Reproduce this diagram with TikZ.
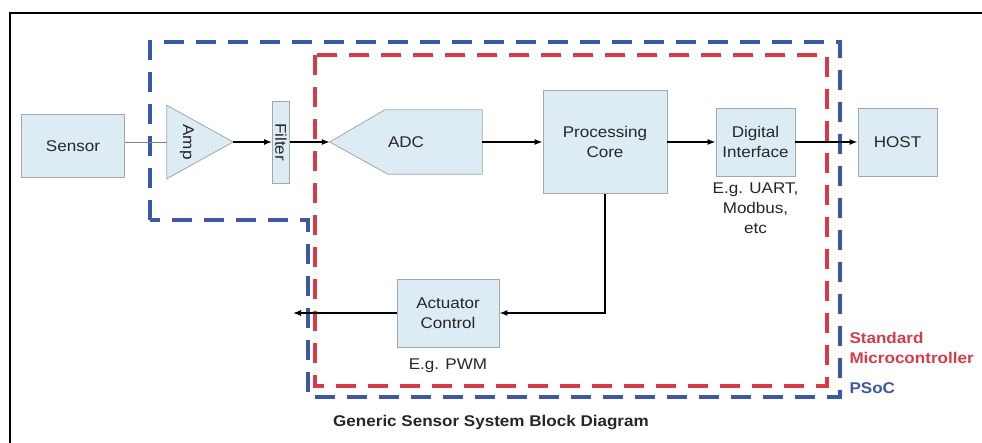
\documentclass[tikz,border=0pt]{standalone}
\usepackage{fontspec}
\setmainfont[FakeStretch=1.1]{Liberation Sans}
\usetikzlibrary{positioning,calc,arrows.meta}
\definecolor{boxfill}{HTML}{DDEBF5}
\definecolor{boxline}{HTML}{A3A8AD}
\definecolor{psocblue}{HTML}{3A58A6}
\definecolor{mcred}{HTML}{D63C48}
\begin{document}
\begin{tikzpicture}[x=1pt, y=-1pt, every node/.style={font=\fontsize{15.5}{20}\selectfont, align=center, text=black!85},
  blk/.style={draw=boxline, fill=boxfill, line width=0.8pt, inner sep=0pt},
  sig/.style={-{Latex[length=8pt, width=6pt]}, line width=1.3pt},
  region/.style={line width=3.2pt, dash pattern=on 20pt off 12pt},
  lbl/.style={font=\fontsize{15.5}{20}\selectfont\bfseries}]
\useasboundingbox (0,0) rectangle (982,443);
\fill[white] (0,0) rectangle (982,443);
\draw[line width=1.6pt] (990,13) -- (10,13) -- (10,450);
\draw[region, psocblue] (150,220) -- (150,42) -- (840,42) -- (840,397) -- (308,397) -- (308,220) -- cycle;
\draw[region, mcred] (315,55) rectangle (827,386);

\node[blk, minimum width=103, minimum height=63] (sensor) at (73,146) {Sensor};
\node[minimum width=66, minimum height=73, inner sep=0pt] (amp) at (200,142) {};
\draw[blk] (amp.north west) -- (amp.east) -- (amp.south west) -- cycle;
\node[rotate=-90] (amptxt) at ($(amp.west)+(20,0)$) {Amp};
\node[blk, minimum width=17, minimum height=82] (filter) at (281,142) {};
\node[rotate=-90] (filtertxt) at (filter) {Filter};
\node[minimum width=152, minimum height=64, inner sep=0pt] (adc) at (406,142) {};
\draw[blk] (adc.west) -- ($(adc.north west)+(55,0)$) -- (adc.north east) -- (adc.south east) -- ($(adc.south west)+(58,0)$) -- cycle;
\node (adctxt) at (adc) {ADC};
\node[blk, minimum width=124, minimum height=103] (core) at (605,142) {Processing\\Core};
\node[blk, minimum width=79, minimum height=68] (di) at (755.5,142) {Digital\\Interface};
\node[blk, minimum width=79, minimum height=68] (host) at (897.5,142) {HOST};
\node[blk, minimum width=102, minimum height=68] (act) at (448,313) {Actuator\\Control};
\coordinate (actout) at (293,313);

\node[below=3pt of di] (dinote) {E.g. UART,\\Modbus,\\etc};
\node[below=8pt of act] (actnote) {E.g. PWM};
\node[lbl, text=mcred, anchor=west, align=left] (mclabel) at (846,348) {Standard\\Microcontroller};
\node[lbl, text=psocblue, anchor=west] (psoclabel) at (846,388) {PSoC};
\node[lbl] (title) at (491,423) {Generic Sensor System Block Diagram};

\draw[gray, line width=0.8pt] (sensor.east |- amp.west) -- (amp.west);
\draw[sig] (amp.east) -- (filter.west);
\draw[sig] (filter.east) -- (adc.west);
\draw[sig] (adc.east) -- (core.west);
\draw[sig] (core.east) -- (di.west);
\draw[sig] (di.east) -- (host.west);
\draw[sig] (core.south) |- (act.east);
\draw[sig] (act.west) -- (actout);
\end{tikzpicture}
\end{document}
